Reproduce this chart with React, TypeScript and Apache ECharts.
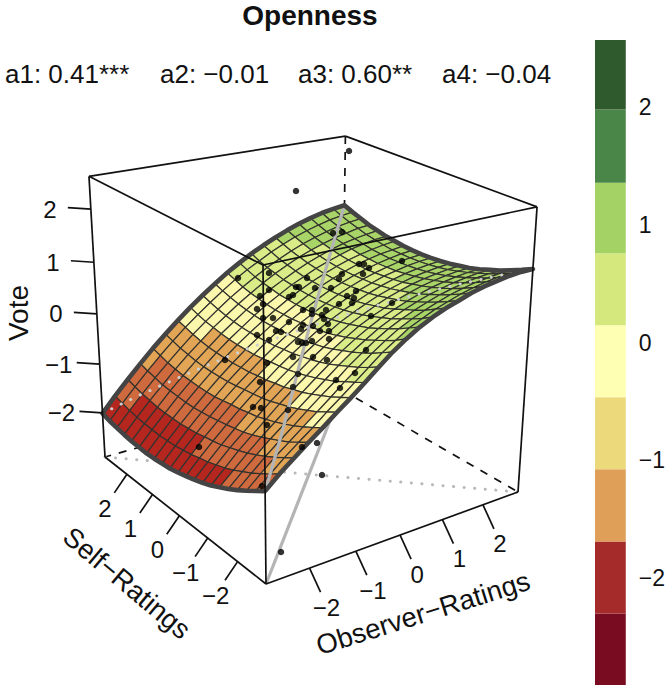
import React, { useEffect, useRef } from "react";
import * as echarts from "echarts";

const FONT = "Liberation Sans";
const MINUS = "\u2212";

const titleText = "Openness";
const coefLabels = ["a1: 0.41***", `a2: ${MINUS}0.01`, "a3: 0.60**", `a4: ${MINUS}0.04`];
const coefLeft = [5, 160, 298, 442];
const axisTicks = [-2, -1, 0, 1, 2];
const ratingRange = [-2.9, 2.9];
const voteRange = [-2.93, 2.6];

// rows: Self-Ratings from -2.9 to 2.9; columns: Observer-Ratings from -2.9 to 2.9
const surfaceVote = [
  [-1.21,-.98,-.78,-.58,-.39,-.19,0,.20,.41,.61,.78,.93,1.05,1.15,1.23,1.31,1.37,1.41,1.45,1.47,1.47],
  [-1.33,-1.11,-.89,-.69,-.50,-.29,-.10,.10,.30,.50,.66,.82,.93,1.04,1.12,1.20,1.26,1.31,1.34,1.36,1.37],
  [-1.45,-1.22,-1.00,-.80,-.60,-.40,-.20,.01,.20,.39,.56,.71,.83,.93,1.02,1.10,1.16,1.21,1.24,1.27,1.28],
  [-1.56,-1.33,-1.10,-.89,-.69,-.48,-.28,-.09,.12,.30,.47,.62,.74,.84,.93,1.01,1.07,1.12,1.16,1.18,1.19],
  [-1.66,-1.42,-1.19,-.97,-.77,-.56,-.36,-.16,.04,.22,.38,.53,.65,.76,.85,.93,.99,1.04,1.08,1.11,1.12],
  [-1.75,-1.51,-1.27,-1.05,-.84,-.63,-.43,-.23,-.04,.15,.31,.45,.58,.68,.77,.85,.92,.97,1.01,1.04,1.05],
  [-1.84,-1.59,-1.34,-1.12,-.90,-.68,-.48,-.29,-.10,.08,.24,.39,.51,.61,.71,.79,.86,.91,.95,.98,.99],
  [-1.91,-1.65,-1.40,-1.18,-.96,-.74,-.54,-.34,-.15,.02,.18,.33,.45,.56,.66,.74,.81,.86,.90,.93,.95],
  [-1.97,-1.71,-1.46,-1.22,-.99,-.78,-.57,-.38,-.19,-.02,.13,.28,.40,.51,.61,.69,.76,.82,.86,.89,.91],
  [-2.02,-1.75,-1.50,-1.26,-1.03,-.81,-.61,-.41,-.23,-.06,.10,.24,.36,.47,.57,.66,.73,.79,.83,.86,.88],
  [-2.07,-1.80,-1.53,-1.29,-1.05,-.83,-.63,-.43,-.25,-.09,.07,.21,.33,.45,.55,.63,.71,.76,.81,.84,.86],
  [-2.11,-1.83,-1.57,-1.32,-1.08,-.86,-.66,-.46,-.28,-.11,.05,.18,.31,.43,.53,.62,.69,.75,.80,.83,.85],
  [-2.13,-1.86,-1.59,-1.34,-1.11,-.88,-.67,-.48,-.29,-.12,.03,.17,.30,.42,.52,.61,.68,.74,.79,.83,.85],
  [-2.15,-1.87,-1.61,-1.36,-1.12,-.89,-.68,-.48,-.30,-.13,.03,.17,.30,.42,.52,.61,.69,.75,.80,.83,.86],
  [-2.16,-1.88,-1.61,-1.36,-1.12,-.89,-.68,-.48,-.30,-.13,.03,.18,.31,.43,.53,.62,.70,.76,.81,.85,.88],
  [-2.15,-1.87,-1.61,-1.35,-1.11,-.89,-.67,-.47,-.29,-.11,.05,.19,.33,.44,.55,.64,.72,.79,.84,.88,.90],
  [-2.14,-1.86,-1.60,-1.34,-1.10,-.87,-.66,-.45,-.27,-.09,.07,.22,.35,.47,.58,.67,.75,.82,.87,.91,.94],
  [-2.12,-1.84,-1.57,-1.32,-1.07,-.84,-.63,-.42,-.24,-.06,.10,.25,.39,.51,.62,.71,.79,.86,.91,.96,.98],
  [-2.09,-1.81,-1.54,-1.28,-1.04,-.81,-.59,-.39,-.20,-.02,.14,.29,.43,.55,.66,.76,.84,.91,.97,1.01,1.04],
  [-2.06,-1.77,-1.50,-1.24,-.99,-.76,-.54,-.34,-.15,.03,.20,.35,.48,.61,.72,.82,.90,.97,1.03,1.07,1.10],
  [-2.01,-1.72,-1.45,-1.19,-.94,-.71,-.49,-.28,-.09,.09,.26,.41,.55,.67,.78,.88,.97,1.04,1.10,1.14,1.17],
];

const surfaceBreaks = [-1.66, -1.09, -0.52, 0.146, 0.76];
const surfaceColors = ["#b5261f", "#cf6a3e", "#e2a556", "#fbf7ad", "#d9ec88", "#a8d468"];

const legendBreaks = [-2.906, -2.298, -1.687, -1.075, -0.464, 0.148, 0.759, 1.359, 1.98, 2.57];
const legendColors = ["#7a0c22", "#a52a2a", "#df9f58", "#ebd97c", "#ffffb3", "#d4e87e", "#a4d264", "#4a8648", "#2e5a2e"];

// dots in picture plane units of the plot
const dotsX = [296,349,333,342,269,238,307,359,364,369,342,363,339,296,299,315,331,269,356,260,289,293,347,354,352,339,392,263,257,303,312,326,312,322,324,371,263,273,289,328,303,313,301,320,329,276,281,257,329,269,298,302,306,312,366,293,313,327,267,298,355,336,260,293,340,253,261,288,267,225,199,262,302,317,322,281,402];
const dotsY = [191,151,233,232,273,278,278,264,264,268,274,274,279,287,287,288,288,290,291,296,297,295,296,298,303,304,303,304,309,310,310,310,314,315,319,316,318,318,322,324,325,326,329,331,331,331,332,335,339,340,342,343,343,341,350,357,357,360,363,374,373,380,382,387,388,407,408,410,425,360,447,486,447,443,475,552,261];

const cubeF = [266, 584];
const cubeR = [518, 492];
const cubeL = [105, 457];
const cubeT = [263, 265];
const persp = [0.137, 0.165, -0.09];

function project(obs: number, self: number, vote: number): number[] {
  const nx = (obs - ratingRange[0]) / (ratingRange[1] - ratingRange[0]);
  const ny = (self - ratingRange[0]) / (ratingRange[1] - ratingRange[0]);
  const nz = (vote - voteRange[0]) / (voteRange[1] - voteRange[0]);
  const w = 1 + persp[0] * nx + persp[1] * ny + persp[2] * nz;
  return [0, 1].map(
    (k) =>
      (cubeF[k] +
        nx * ((1 + persp[0]) * cubeR[k] - cubeF[k]) +
        ny * ((1 + persp[1]) * cubeL[k] - cubeF[k]) +
        nz * ((1 + persp[2]) * cubeT[k] - cubeF[k])) /
      w
  );
}

const [loR, hiR] = ratingRange;
const [loV, hiV] = voteRange;
const gridN = surfaceVote.length;
const rating = (k: number) => loR + ((hiR - loR) * k) / (gridN - 1);
const surf = (j: number, i: number) => project(rating(i), rating(j), surfaceVote[j][i]);

function bandColor(v: number) {
  let k = 0;
  while (k < surfaceBreaks.length && v >= surfaceBreaks[k]) k++;
  return surfaceColors[k];
}

const facets: number[][] = [];
for (let j = gridN - 2; j >= 0; j--) for (let i = gridN - 2; i >= 0; i--) facets.push([i, j]);

const range = (n: number) => Array.from({ length: n }, (_, k) => k);
const loc = range(gridN).map((k) => surf(k, k));
const loic = range(gridN).map((k) => surf(k, gridN - 1 - k));
const outline = [
  ...range(gridN).map((k) => surf(0, k)),
  ...range(gridN).map((k) => surf(k, gridN - 1)),
  ...range(gridN).map((k) => surf(gridN - 1, gridN - 1 - k)),
  ...range(gridN).map((k) => surf(gridN - 1 - k, 0)),
];

const lab = (n: number) => (n < 0 ? MINUS + Math.abs(n) : String(n));

function line(api: any, a: number[], b: number[], style: any) {
  const p = api.coord(a);
  const q = api.coord(b);
  return { type: "line", shape: { x1: p[0], y1: p[1], x2: q[0], y2: q[1] }, style: { fill: null, ...style } };
}

function text(api: any, p: number[], s: string, size: number, rotation = 0) {
  const c = api.coord(p);
  return {
    type: "text",
    x: c[0],
    y: c[1],
    rotation,
    style: { text: s, fontFamily: FONT, fontSize: size, fill: "#111", textAlign: "center", textVerticalAlign: "middle" },
  };
}

const BOX = { stroke: "#111", lineWidth: 1.7 };

function renderBehind(_: any, api: any) {
  const dash = { stroke: "#111", lineWidth: 1.7, lineDash: [8, 8] };
  const dotted = { stroke: "#b8b8b8", lineWidth: 3, lineDash: [0.1, 10.5], lineCap: "round" };
  const backBottom = project(hiR, hiR, loV);
  const backTop = project(hiR, hiR, hiV);
  return {
    type: "group",
    children: [
      line(api, backTop, project(loR, hiR, hiV), BOX),
      line(api, backTop, project(hiR, loR, hiV), BOX),
      line(api, backTop, backBottom, dash),
      line(api, backBottom, project(loR, hiR, loV), dash),
      line(api, backBottom, project(hiR, loR, loV), dash),
      line(api, project(loR, hiR, loV), project(hiR, loR, loV), dotted),
      line(api, project(loR, loR, loV), backBottom, { stroke: "#b4b4b4", lineWidth: 3.2 }),
    ],
  };
}

function renderFacet(_: any, api: any) {
  const i = api.value(0);
  const j = api.value(1);
  const mean = (surfaceVote[j][i] + surfaceVote[j][i + 1] + surfaceVote[j + 1][i] + surfaceVote[j + 1][i + 1]) / 4;
  const pts = [surf(j, i), surf(j, i + 1), surf(j + 1, i + 1), surf(j + 1, i)].map((p) => api.coord(p));
  return { type: "polygon", shape: { points: pts }, style: { fill: bandColor(mean), stroke: "#33332e", lineWidth: 1.2 } };
}

function renderOnSurface(_: any, api: any) {
  return {
    type: "group",
    children: [
      { type: "polyline", shape: { points: loic.map((p) => api.coord(p)) }, style: { fill: null, stroke: "#cfcfcf", lineWidth: 3, lineDash: [0.1, 10.5], lineCap: "round" } },
      { type: "polyline", shape: { points: loc.map((p) => api.coord(p)) }, style: { fill: null, stroke: "#b4b4b4", lineWidth: 3.2 } },
      { type: "polygon", shape: { points: outline.map((p) => api.coord(p)) }, style: { fill: null, stroke: "#444", lineWidth: 4.6, lineJoin: "round" } },
    ],
  };
}

function renderFront(_: any, api: any) {
  const F0 = project(loR, loR, loV);
  const F1 = project(loR, loR, hiV);
  const L0 = project(loR, hiR, loV);
  const L1 = project(loR, hiR, hiV);
  const R0 = project(hiR, loR, loV);
  const R1 = project(hiR, loR, hiV);
  const kids: any[] = [
    line(api, F0, F1, BOX), line(api, L0, L1, BOX), line(api, R0, R1, BOX),
    line(api, F0, L0, BOX), line(api, F0, R0, BOX), line(api, F1, L1, BOX), line(api, F1, R1, BOX),
  ];
  axisTicks.forEach((t) => {
    const o = project(t, loR, loV);
    kids.push(line(api, o, [o[0] + 11, o[1] + 24], BOX));
    kids.push(text(api, [o[0] + 17, o[1] + 39], lab(t), 24));
    const s = project(loR, t, loV);
    kids.push(line(api, s, [s[0] - 12.6, s[1] + 18.6], BOX));
    kids.push(text(api, [s[0] - 22, s[1] + 34], lab(t), 24));
    const v = project(loR, hiR, t);
    kids.push(line(api, v, [v[0] - 23, v[1] - 1.5], BOX));
    kids.push(text(api, [v[0] - 41, v[1]], lab(t), 24));
  });
  kids.push(text(api, [127, 583], `Self${MINUS}Ratings`, 27.5, -0.7));
  kids.push(text(api, [423, 613], `Observer${MINUS}Ratings`, 27.5, 0.304));
  kids.push(text(api, [18, 313], "Vote", 28, Math.PI / 2));
  return { type: "group", children: kids };
}

function renderLegend(_: any, api: any) {
  const k = api.value(0);
  const a = api.coord([0, legendBreaks[k + 1]]);
  const b = api.coord([1, legendBreaks[k]]);
  return { type: "rect", shape: { x: a[0], y: a[1], width: b[0] - a[0], height: b[1] - a[1] }, style: { fill: legendColors[k] } };
}

export default function App() {
  const ref = useRef<HTMLDivElement>(null);
  useEffect(() => {
    const chart = echarts.init(ref.current!, null, { renderer: "svg" });
    chart.setOption({
      animation: false,
      backgroundColor: "#fff",
      grid: [
        { left: 0, top: 0, width: 668, height: 686 },
        { left: 595, top: 40, width: 38, height: 645 },
      ],
      xAxis: [
        { type: "value", gridIndex: 0, min: 0, max: 668, show: false },
        { type: "value", gridIndex: 1, min: 0, max: 1, show: false },
      ],
      yAxis: [
        { type: "value", gridIndex: 0, min: 0, max: 686, inverse: true, show: false },
        {
          type: "value",
          gridIndex: 1,
          position: "right",
          min: legendBreaks[0],
          max: legendBreaks[legendBreaks.length - 1],
          axisLine: { show: false },
          axisTick: { show: false },
          splitLine: { show: false },
          axisLabel: {
            customValues: axisTicks,
            margin: 13,
            fontFamily: FONT,
            fontSize: 23,
            color: "#111",
            formatter: (v: number) => lab(v),
          },
        },
      ],
      graphic: [
        { type: "text", x: 310, y: 15, style: { text: titleText, fontFamily: FONT, fontWeight: "bold", fontSize: 28, fill: "#111", textAlign: "center", textVerticalAlign: "middle" } },
        ...coefLabels.map((t, k) => ({
          type: "text",
          x: coefLeft[k],
          y: 74,
          style: { text: t, fontFamily: FONT, fontSize: 26, fill: "#111", textAlign: "left", textVerticalAlign: "middle" },
        })),
      ],
      series: [
        { type: "custom", xAxisIndex: 1, yAxisIndex: 1, silent: true, z: 1, data: legendColors.map((_, k) => [k]), renderItem: renderLegend },
        { type: "custom", silent: true, z: 2, data: [[0]], renderItem: renderBehind },
        { type: "custom", silent: true, z: 3, data: facets, renderItem: renderFacet },
        { type: "custom", silent: true, z: 4, data: [[0]], renderItem: renderOnSurface },
        { type: "custom", silent: true, z: 5, data: [[0]], renderItem: renderFront },
        {
          type: "scatter",
          silent: true,
          z: 6,
          symbolSize: 6.5,
          itemStyle: { color: "#000" },
          data: dotsX.map((x, k) => [x, dotsY[k]]),
        },
      ],
    });
    return () => chart.dispose();
  }, []);
  return <div ref={ref} style={{ position: "absolute", left: 0, top: 0, width: 668, height: 686 }} />;
}
